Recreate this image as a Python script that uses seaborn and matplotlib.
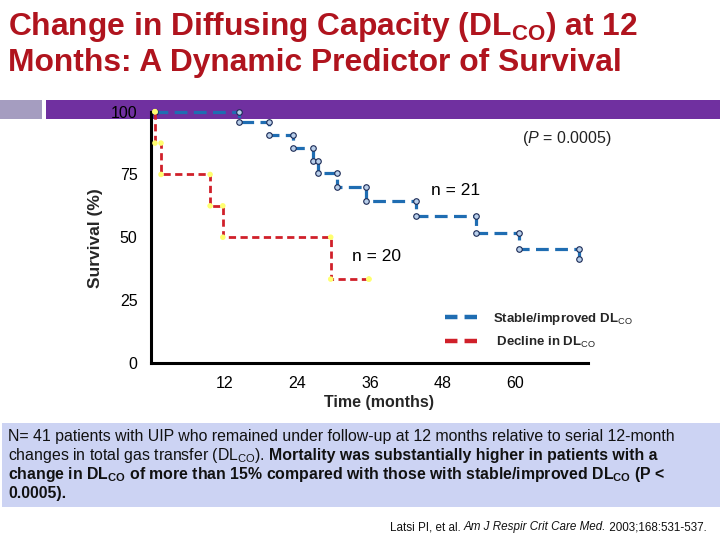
import matplotlib
matplotlib.use("Agg")
import matplotlib.pyplot as plt
import seaborn as sns
from matplotlib.patches import Rectangle
from matplotlib.lines import Line2D

# ---------------- data ----------------
blue_t = [0.5, 14.4, 19.4, 23.2, 26.5, 27.4, 30.5, 35.3, 43.5, 53.5, 60.6, 70.5]
blue_s = [100, 95.8, 90.7, 85.6, 80.4, 75.6, 70.0, 64.3, 58.3, 51.8, 45.2, 41.4]
red_t = [0.5, 0.5, 1.5, 9.6, 11.7, 29.5, 35.8]
red_s = [100, 87.5, 75, 62.5, 50, 33.3, 33.3]
x_ticks = [12, 24, 36, 48, 60]
y_ticks = [0, 25, 50, 75, 100]
legend_labels = ["Stable/improved DL$_{\\mathrm{CO}}$", " Decline in DL$_{\\mathrm{CO}}$"]

BLUE = "#1F6DB2"
RED = "#D0202A"
W, H = 720, 540

sns.set_style("white")
plt.rcParams["font.family"] = ["Liberation Sans", "DejaVu Sans"]
plt.rcParams["mathtext.fontset"] = "custom"
plt.rcParams["mathtext.rm"] = "Liberation Sans"
plt.rcParams["mathtext.it"] = "Liberation Sans:italic"
plt.rcParams["mathtext.bf"] = "Liberation Sans:bold"

fig = plt.figure(figsize=(7.2, 5.4), dpi=100)
fig.patch.set_facecolor("white")

def fx(px):
    return px / W

def fy(py):
    return 1 - py / H

# decorative bands
fig.add_artist(Rectangle((0, fy(119)), fx(42), 19 / H, transform=fig.transFigure,
                         facecolor="#A59DC0", edgecolor="none", zorder=-2))
fig.add_artist(Rectangle((fx(46), fy(119)), fx(W - 46), 19 / H, transform=fig.transFigure,
                         facecolor="#7030A0", edgecolor="none", zorder=-2))
fig.add_artist(Rectangle((fx(2), fy(507)), fx(W - 2), 84 / H, transform=fig.transFigure,
                         facecolor="#CCD3F3", edgecolor="none", zorder=-2))

ax = fig.add_axes([fx(150.7), fy(362.7), fx(588.3 - 150.7), (362.7 - 111.7) / H])
ax.patch.set_visible(False)


def corners(t, s):
    xs, ys = [t[0]], [s[0]]
    for i in range(1, len(t)):
        xs += [t[i], t[i]]
        ys += [s[i - 1], s[i]]
    return xs, ys


# blue curve
sns.lineplot(x=blue_t, y=blue_s, estimator=None, sort=False, drawstyle="steps-post",
             color=BLUE, linewidth=2.3, linestyle=(0, (4, 2)), ax=ax, clip_on=False, zorder=3)
bx, by = corners(blue_t, blue_s)
sns.scatterplot(x=bx, y=by, s=16, color="#B9CFEA", edgecolor="#1B2A55", linewidth=0.8,
                ax=ax, clip_on=False, zorder=4)
# red curve
sns.lineplot(x=red_t, y=red_s, estimator=None, sort=False, drawstyle="steps-post",
             color=RED, linewidth=2.0, linestyle=(0, (2.6, 1.6)), ax=ax, clip_on=False, zorder=5)
rx, ry = corners(red_t, red_s)
sns.scatterplot(x=rx, y=ry, s=16, color="#FFFF70", edgecolor="none", linewidth=0,
                ax=ax, clip_on=False, zorder=6)

ax.set_xlim(-0.2, 72)
ax.set_ylim(0, 100)
ax.set_xticks(x_ticks)
ax.set_yticks(y_ticks)
ax.set_xticklabels([str(v) for v in x_ticks])
ax.set_yticklabels([str(v) for v in y_ticks])
for side in ["top", "right"]:
    ax.spines[side].set_visible(False)
for side in ["left", "bottom"]:
    ax.spines[side].set_color("black")
    ax.spines[side].set_linewidth(2.2)
ax.tick_params(axis="both", direction="inout", length=5, width=1.5, color="white",
               labelcolor="black", labelsize=11.5, pad=7)

ax.set_xlabel("Time (months)", fontsize=11.5, fontweight="bold")
ax.xaxis.set_label_coords(0.522, -0.13)
ax.set_ylabel("Survival (%)", fontsize=12.5, fontweight="bold")
ax.yaxis.set_label_coords(-0.11, 0.497)

ax.text(50.1, 68.8, "n = 21", ha="center", va="center", fontsize=12.5, color="black")
ax.text(37.0, 42.5, "n = 20", ha="center", va="center", fontsize=12.5, color="black")
ax.text(68.5, 89.5, "($\\mathit{P}$ = 0.0005)", ha="center", va="center", fontsize=11.5,
        color="#222222")

handles = [Line2D([], [], color=BLUE, lw=3.2, linestyle=(0, (2.8, 1.6))),
           Line2D([], [], color=RED, lw=3.2, linestyle=(0, (2.8, 1.6)))]
ax.legend(handles, legend_labels, loc="center left",
          bbox_to_anchor=(fx(445), fy(330.5)), bbox_transform=fig.transFigure,
          frameon=False, borderpad=0, borderaxespad=0, handlelength=2.9,
          handletextpad=0.75, labelspacing=0.62,
          prop={"weight": "bold", "size": 9.5})

# title
TITLE_C = "#B0141E"
fig.text(fx(8), fy(35), "Change in Diffusing Capacity (DL$_{\\mathregular{CO}}$) at 12",
         fontsize=22.9, fontweight="bold", color=TITLE_C, va="baseline", ha="left")
fig.text(fx(8), fy(71), "Months: A Dynamic Predictor of Survival",
         fontsize=22.9, fontweight="bold", color=TITLE_C, va="baseline", ha="left")

# rich text in bottom box
renderer = fig.canvas.get_renderer()


def seg_width(s, **kw):
    t1 = fig.text(0, 0, s + "|", **kw)
    t2 = fig.text(0, 0, "|", **kw)
    w = t1.get_window_extent(renderer).width - t2.get_window_extent(renderer).width
    t1.remove()
    t2.remove()
    return w


def draw_line(x, y, segs):
    for s, kw in segs:
        fig.text(fx(x), fy(y), s, ha="left", va="baseline", **kw)
        x += seg_width(s, **kw)


REG = {"fontsize": 11.4, "color": "#111111"}
BOLD = {"fontsize": 11.4, "color": "#111111", "fontweight": "bold"}
lines = [
    [("N= 41 patients with UIP who remained under follow-up at 12 months relative to serial 12-month", REG)],
    [("changes in total gas transfer (DL$_{\\mathregular{CO}}$). ", REG),
     ("Mortality was substantially higher in patients with a", BOLD)],
    [("change in DL$_{\\mathregular{CO}}$ of more than 15% compared with those with stable/improved DL$_{\\mathregular{CO}}$ (P <", BOLD)],
    [("0.0005).", BOLD)],
]
for i, segs in enumerate(lines):
    draw_line(8, 441 + 19 * i, segs)

CK = {"fontsize": 8.4, "color": "#111111"}
cite = [("Latsi PI, et al. ", CK),
        ("Am J Respir Crit Care Med.", dict(CK, style="italic")),
        (" 2003;168:531-537.", CK)]
draw_line(390, 530, cite)

fig.savefig("out.png", dpi=100)
